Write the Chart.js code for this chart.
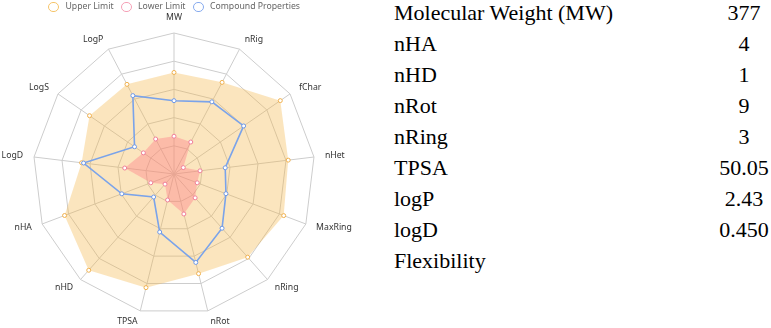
<!DOCTYPE html>
<html>
<head>
<meta charset="utf-8">
<script src="https://cdn.jsdelivr.net/npm/chart.js@4"></script>
<style>
  html, body { margin: 0; padding: 0; background: #fff; }
  body { width: 771px; height: 328px; position: relative; overflow: hidden; }
  #chartBox { position: absolute; left: 0; top: 0; width: 365px; height: 328px; }
  #legend { position: absolute; left: 0; top: 0; width: 365px; height: 14px;
            font-family: "Noto Sans", sans-serif; font-size: 8.7px; color: #666; }
  .lg-c { position: absolute; top: 1.5px; width: 8.6px; height: 8.6px; border-radius: 50%; border: 1.2px solid; box-sizing: content-box; }
  .lg-t { position: absolute; top: 0; line-height: 13px; white-space: nowrap; }
  #table { position: absolute; left: 394px; top: -3px; width: 377px;
           font-family: "Liberation Serif", "Times New Roman", serif; font-size: 22px; color: #000; }
  .row { height: 31px; line-height: 31px; position: relative; white-space: nowrap; }
  .val { position: absolute; left: 300px; width: 100px; text-align: center; top: 0; }
</style>
</head>
<body>
<div id="chartBox"><canvas id="c"></canvas></div>
<div id="legend"></div>
<div id="table"></div>
<script>
const categories = ["MW", "nRig", "fChar", "nHet", "MaxRing", "nRing", "nRot", "TPSA", "nHD", "nHA", "LogD", "LogS", "LogP"];
const upperLimit = [3.6, 3.67, 4.58, 4.08, 4.16, 3.94, 3.64, 4.15, 4.56, 4.15, 3.3, 3.64, 3.59];
const lowerLimit = [1.34, 1.28, 0.40, 0.93, 0.88, 1.13, 1.46, 0.95, 0.48, 0.88, 1.76, 1.32, 1.40];
const compound   = [2.60, 2.89, 3.00, 1.83, 1.97, 2.57, 3.23, 2.12, 1.09, 1.98, 3.23, 1.70, 3.14];
const seriesNames = ["Upper Limit", "Lower Limit", "Compound Properties"];
const tableLabels = ["Molecular Weight (MW)", "nHA", "nHD", "nRot", "nRing", "TPSA", "logP", "logD", "Flexibility"];
const tableValues = ["377", "4", "1", "9", "3", "50.05", "2.43", "0.450", ""];

const tbl = document.getElementById('table');
tableLabels.forEach((l, i) => {
  const r = document.createElement('div'); r.className = 'row';
  r.textContent = l;
  const v = document.createElement('span'); v.className = 'val'; v.textContent = tableValues[i];
  r.appendChild(v); tbl.appendChild(r);
});

const legendStroke = ['#f5c46a', '#f5a0b6', '#86aaee'];
const legendCircleX = [48, 121, 193];
const legendTextX = [65.5, 138, 210];
const lg = document.getElementById('legend');
seriesNames.forEach((n, i) => {
  const c = document.createElement('div'); c.className = 'lg-c';
  c.style.left = legendCircleX[i] + 'px'; c.style.borderColor = legendStroke[i];
  const t = document.createElement('div'); t.className = 'lg-t';
  t.style.left = legendTextX[i] + 'px'; t.textContent = n;
  lg.appendChild(c); lg.appendChild(t);
});

const pointLabelPlugin = {
  id: 'pointLabelsOuter',
  afterDraw(chart) {
    const s = chart.scales.r, ctx = chart.ctx;
    ctx.save();
    ctx.font = '8.7px "Noto Sans"';
    ctx.fillStyle = '#333';
    categories.forEach((lab, i) => {
      const p = s.getPointPosition(i, s.drawingArea + 11);
      const a = s.getIndexAngle(i);
      const sn = Math.sin(a), cs = Math.cos(a);
      ctx.textAlign = Math.abs(sn) < 0.01 ? 'center' : (sn > 0 ? 'left' : 'right');
      ctx.textBaseline = Math.abs(sn) < 0.01 ? (cs > 0 ? 'bottom' : 'top') : 'middle';
      ctx.fillText(lab, p.x, p.y);
    });
    ctx.restore();
  }
};

new Chart(document.getElementById('c'), {
  type: 'radar',
  data: {
    labels: categories,
    datasets: [
      { label: seriesNames[0], data: upperLimit, order: 3,
        backgroundColor: 'rgba(244,180,70,0.35)', borderColor: 'rgba(0,0,0,0)', borderWidth: 0, fill: true,
        pointBackgroundColor: '#fff', pointBorderColor: '#f0b04c', pointBorderWidth: 1, pointRadius: 2 },
      { label: seriesNames[1], data: lowerLimit, order: 2,
        backgroundColor: 'rgba(255,110,130,0.35)', borderColor: 'rgba(0,0,0,0)', borderWidth: 0, fill: true,
        pointBackgroundColor: '#fff', pointBorderColor: '#f07e98', pointBorderWidth: 1, pointRadius: 2 },
      { label: seriesNames[2], data: compound, order: 1,
        backgroundColor: 'rgba(0,0,0,0)', borderColor: '#7aa3ea', borderWidth: 1.6, fill: false,
        pointBackgroundColor: '#fff', pointBorderColor: '#6e98e6', pointBorderWidth: 1, pointRadius: 2 }
    ]
  },
  options: {
    responsive: true, maintainAspectRatio: false, animation: false,
    layout: { padding: { top: 33, bottom: 13, left: 33, right: 50 } },
    plugins: { tooltip: { enabled: false }, legend: { display: false } },
    scales: {
      r: {
        min: 0, max: 5,
        ticks: { display: false, stepSize: 1 },
        grid: { color: '#cdcdcd', lineWidth: 1 },
        angleLines: { color: '#cdcdcd', lineWidth: 1 },
        pointLabels: { display: false }
      }
    }
  },
  plugins: [pointLabelPlugin]
});
</script>
</body>
</html>
